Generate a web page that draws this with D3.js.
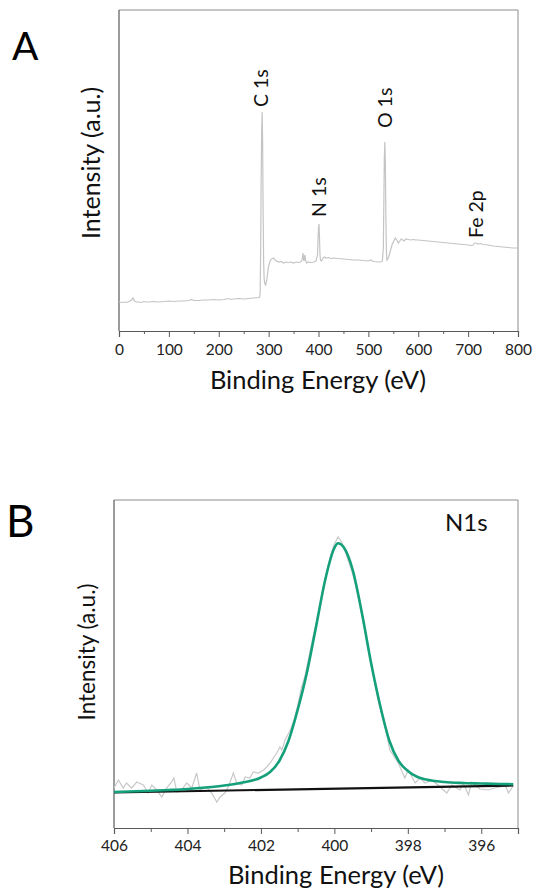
<!DOCTYPE html>
<html>
<head>
<meta charset="utf-8">
<script src="https://cdn.jsdelivr.net/npm/d3@7"></script>
<style>
  html, body { margin: 0; padding: 0; background: #fff; }
  svg { display: block; font-family: Lato, "Open Sans", sans-serif; }
</style>
</head>
<body>
<svg id="chart" width="535" height="892"></svg>
<script>
// ---------- Panel A: XPS survey ----------
const surveyEnergy = [0,5,10,15,20,25,28,31,35,40,45,50,55,60,70,80,90,100,110,120,130,140,145,150,160,170,180,190,200,210,220,225,230,240,250,260,270,280,282,283,284,285,286,287,288,289,290,291,292,294,296,298,300,303,306,310,313,316,320,325,330,335,340,345,350,355,360,364,367,369,370,371,372,373,374,376,380,385,390,395,398,399,400,401,402,403,404,406,408,410,412,415,420,425,430,440,450,460,470,480,490,500,505,510,520,525,528,530,531,532,533,534,535,536,537,539,542,545,548,551,554,557,560,563,566,569,572,575,580,585,590,595,600,610,620,630,640,650,660,670,680,690,700,706,710,713,716,720,725,730,740,750,760,770,780,790,800];
const surveyIntensity = [31,30.5,31,30.5,31.5,33,35,32,31,31,30.5,31.5,31,31,31.5,31,31.5,32,31.5,32,32,32.5,33.5,32.5,32.5,33,33,33.5,33,33.5,34.5,33.5,34,34.5,34,34.5,35,35.5,36,40,80,150,200,221,190,120,70,55,50,48,52,60,67,72,74,75,73,72,71,71.5,70,71,70.5,71,70,71,70.5,71,73,80,74,72,76,78,73,70,71,70.5,71,72,78,92,105,109,95,78,73,72,74,75.5,76,75,75.5,74.5,75,74.5,74,73.5,73,73,72.5,72,73,71.5,71,71,72,85,130,175,191,170,120,85,73,74,78,84,89,92,95,93,90,92,94,93,92,94,93.5,93,93.5,93,93,92.5,92,91.5,91,90.5,90,89.5,89,88.5,88,87.5,88,90,90,89,89.5,88.5,88,87,86.5,86,85.5,85,85];
const surveyTicks = [0,100,200,300,400,500,600,700,800];
const peakNames = ["C 1s","N 1s","O 1s","Fe 2p"];
const peakLabelEnergy = [284.5,401,534,716];
const peakLabelIntensity = [226,116,205,95];

// ---------- Panel B: N 1s high resolution ----------
const rawEnergy = [406.0,405.88,405.75,405.66,405.52,405.38,405.2,405.07,404.97,404.84,404.7,404.57,404.43,404.37,404.29,404.16,404.02,403.88,403.75,403.66,403.48,403.34,403.2,403.11,402.98,402.89,402.75,402.66,402.52,402.43,402.3,402.21,402.07,401.93,401.84,401.75,401.66,401.57,401.48,401.43,401.34,401.2,401.1,401.0,400.9,400.8,400.7,400.6,400.5,400.4,400.3,400.2,400.1,400.0,399.9,399.8,399.7,399.6,399.5,399.4,399.3,399.2,399.1,399.0,398.9,398.8,398.7,398.6,398.49,398.26,398.08,397.99,397.8,397.67,397.53,397.35,397.18,396.94,396.8,396.58,396.49,396.35,396.26,396.04,395.81,395.63,395.49,395.35,395.26,395.13];
const rawIntensity = [40,48,40,45,40,46,43,35,43,38,31,40,46,50,36,38,45,40,55,38,41,35,26,31,35,41,55,45,43,51,50,56,55,58,61,65,70,75,81,78,88,98,108,122,140,152,170,188,204,222,240,258,273,284,291,286,276,265,254,239,221,203,184,165,145,127,112,98,78,65,50,58,45,50,45,48,43,35,43,38,45,33,46,39,38,40,41,43,35,42];
const fitEnergy = [406.0,405.0,404.5,404.0,403.5,403.0,402.5,402.0,401.75,401.5,401.25,401.0,400.75,400.5,400.25,400.0,399.9,399.75,399.5,399.25,399.0,398.75,398.5,398.25,398.0,397.75,397.5,397.0,396.5,396.0,395.5,395.13];
const fitIntensity = [36,37.2,38,39,40.5,42.5,45.5,50.5,56,67,87,118,155,201,248,280,284.7,281,258,215,165,122,87,67,57,51.3,48.5,46,45,44.5,44,43.8];
const bgEnergy = [406.0,395.13];
const bgIntensity = [35.5,42.5];
const nTicks = [406,404,402,400,398,396];

const svg = d3.select("#chart");
const axisDark = "#595959", boxGrey = "#8c8c8c";

// ===== Panel A =====
const xA = d3.scaleLinear().domain([0,800]).range([119,518]);
const yA = d3.scaleLinear().domain([2,323]).range([331,10]);
const gA = svg.append("g");
gA.append("line").attr("x1",119).attr("x2",518).attr("y1",10).attr("y2",10).attr("stroke",boxGrey);
gA.append("line").attr("x1",518).attr("x2",518).attr("y1",10).attr("y2",331).attr("stroke",boxGrey);
gA.append("line").attr("x1",119).attr("x2",119).attr("y1",10).attr("y2",331).attr("stroke",axisDark).attr("stroke-width",1.2);
const axA = d3.axisBottom(xA).tickValues(d3.range(0,801,50)).tickSize(6).tickFormat(d => surveyTicks.includes(d) ? d : "");
const gxA = gA.append("g").attr("transform","translate(0,331)").call(axA);
gxA.select(".domain").attr("stroke",axisDark).attr("stroke-width",1.2);
gxA.selectAll(".tick line").attr("stroke",axisDark).attr("y2", d => surveyTicks.includes(d) ? 6 : 3);
gxA.selectAll(".tick text").attr("font-family","Lato, sans-serif").attr("font-size",15.5).attr("fill","#222").attr("y",13);
const lineA = d3.line().x((d,i)=>xA(surveyEnergy[i])).y((d,i)=>yA(surveyIntensity[i]));
gA.append("path").datum(surveyEnergy).attr("d",lineA).attr("fill","none").attr("stroke","#c4c4c4").attr("stroke-width",1.2);
peakNames.forEach((n,i)=>{
  gA.append("text").attr("transform",`translate(${xA(peakLabelEnergy[i])+7},${yA(peakLabelIntensity[i])}) rotate(-90)`)
    .attr("font-size",19.5).attr("fill","#111").text(n);
});
gA.append("text").attr("x",318).attr("y",389).attr("text-anchor","middle").attr("font-size",25.5).attr("fill","#111").text("Binding Energy (eV)");
gA.append("text").attr("transform","translate(100,163) rotate(-90)").attr("text-anchor","middle").attr("font-size",25).attr("fill","#111").text("Intensity (a.u.)");
svg.append("text").attr("x",12).attr("y",60).attr("font-size",39).attr("fill","#000").text("A");

// ===== Panel B =====
const xB = d3.scaleLinear().domain([406,395]).range([114,518]);
const yB = d3.scaleLinear().domain([0,328]).range([828,500]);
const gB = svg.append("g");
gB.append("line").attr("x1",114).attr("x2",518).attr("y1",500).attr("y2",500).attr("stroke",boxGrey);
gB.append("line").attr("x1",518).attr("x2",518).attr("y1",500).attr("y2",828).attr("stroke",boxGrey);
gB.append("line").attr("x1",114).attr("x2",114).attr("y1",500).attr("y2",828).attr("stroke",axisDark).attr("stroke-width",1.2);
const axB = d3.axisBottom(xB).tickValues(d3.range(406,394.5,-1)).tickSize(6).tickFormat(d => nTicks.includes(d) ? d : "");
const gxB = gB.append("g").attr("transform","translate(0,828)").call(axB);
gxB.select(".domain").attr("stroke",axisDark).attr("stroke-width",1.2);
gxB.selectAll(".tick line").attr("stroke",axisDark).attr("y2", d => nTicks.includes(d) ? 6 : 4);
gxB.selectAll(".tick text").attr("font-family","Lato, sans-serif").attr("font-size",15.5).attr("fill","#222").attr("y",12);
const mk = (ex, iy) => d3.line().x((d,i)=>xB(ex[i])).y((d,i)=>yB(iy[i]));
gB.append("path").datum(rawEnergy).attr("d",mk(rawEnergy,rawIntensity)).attr("fill","none").attr("stroke","#c8c8c8").attr("stroke-width",1.2);
gB.append("path").datum(bgEnergy).attr("d",mk(bgEnergy,bgIntensity)).attr("fill","none").attr("stroke","#111").attr("stroke-width",2.2);
gB.append("path").datum(fitEnergy).attr("d",mk(fitEnergy,fitIntensity).curve(d3.curveMonotoneX)).attr("fill","none").attr("stroke","#14a07a").attr("stroke-width",2.6);
gB.append("text").attr("x",445).attr("y",531).attr("font-size",24).attr("fill","#111").text("N1s");
gB.append("text").attr("x",336).attr("y",884).attr("text-anchor","middle").attr("font-size",25.5).attr("fill","#111").text("Binding Energy (eV)");
gB.append("text").attr("transform","translate(95,652) rotate(-90)").attr("text-anchor","middle").attr("font-size",22.5).attr("fill","#111").text("Intensity (a.u.)");
svg.append("text").attr("x",6).attr("y",537).attr("font-size",44).attr("fill","#000").text("B");
</script>
</body>
</html>
